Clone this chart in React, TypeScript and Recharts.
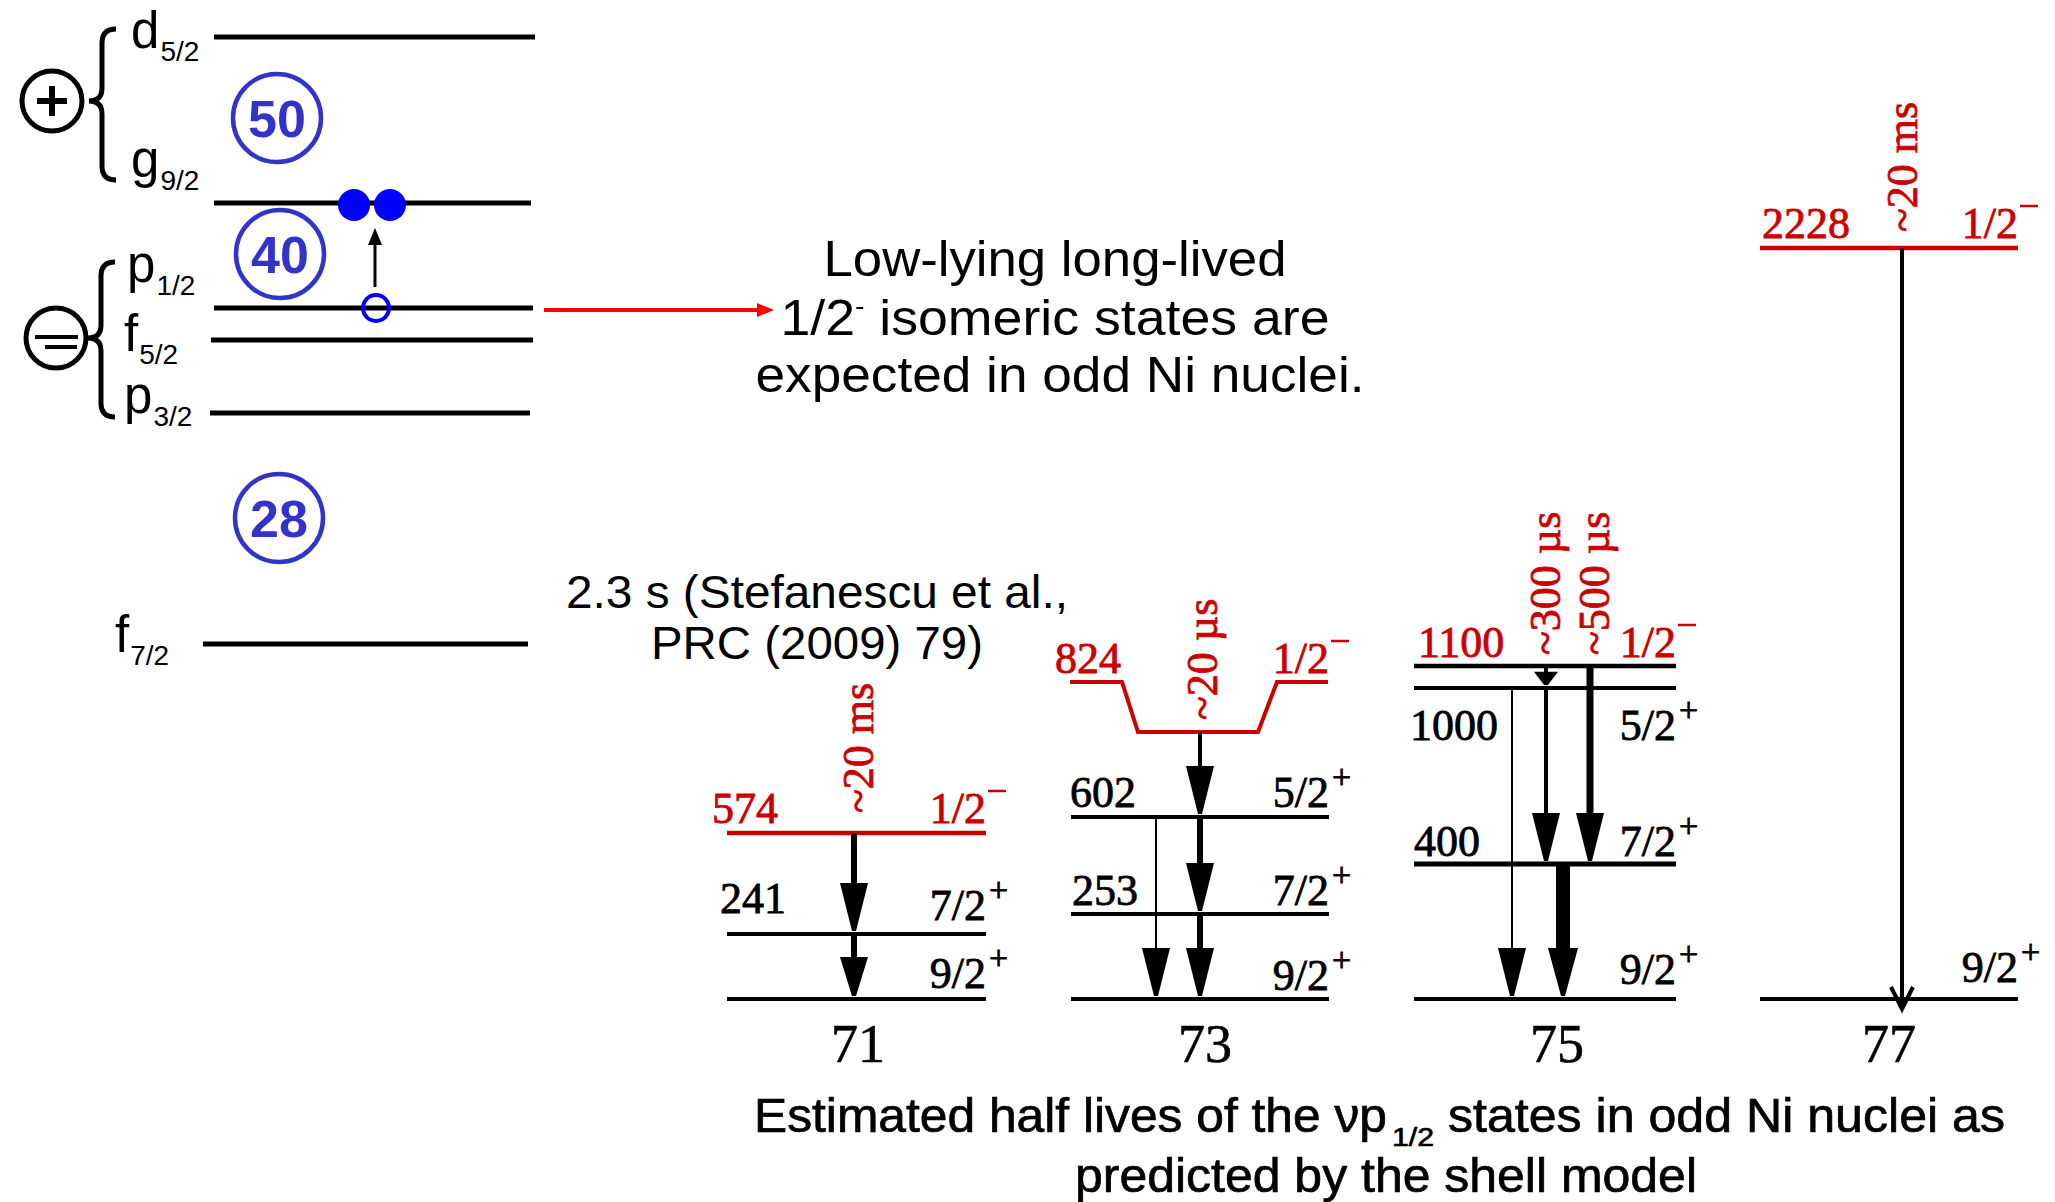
import React from "react";
import { ComposedChart, XAxis, YAxis, Scatter, ReferenceLine, Line } from "recharts";

const W = 2055;
const H = 1202;
const SANS = '"Liberation Sans", Arial, sans-serif';
const SERIF = '"Liberation Serif", "Times New Roman", serif';
const BLUE = "#3333cc";
const PURE_BLUE = "#0000ff";
const RED = "#cc0000";

// ---- shell-model panel (left) ----
const orbitalL = ["d", "g", "p", "f", "p", "f"];
const orbitalJ = ["5/2", "9/2", "1/2", "5/2", "3/2", "7/2"];
const orbitalY = [37, 203, 308, 340, 413, 644];
const orbitalX0 = [214, 214, 214, 211, 210, 203];
const orbitalX1 = [535, 531, 533, 533, 530, 528];
const orbitalLabelX = [131, 131, 127, 124, 124, 115];
const orbitalLabelY = [48, 177, 282, 351, 413, 652];

const magicNumbers = ["50", "40", "28"];
const magicX = [277, 280, 279];
const magicY = [118, 254, 518];

const paritySign = ["+", "-"];
const parityX = [52, 56];
const parityY = [101, 338];
const braceTipX = [89, 88];
const braceTop = [29, 262];
const braceBottom = [180, 417];

// neutron pair lifted from p1/2 into g9/2
const pairX = [354, 390];
const pairY = 205;
const holeX = 376;
const holeY = 308;

// ---- odd Ni isotopes (right) ----
const isotopes = ["71", "73", "75", "77"];
const isoX0 = [727, 1071, 1414, 1760];
const isoX1 = [986, 1329, 1676, 2018];
const isoLabelX = [858, 1205, 1557, 1889];

const levelIso = [0, 0, 0, 1, 1, 1, 1, 2, 2, 2, 2, 3, 3];
const levelEnergy = [0, 241, 574, 0, 253, 602, 824, 0, 400, 1000, 1100, 0, 2228];
const levelSpin = ["9/2", "7/2", "1/2", "9/2", "7/2", "5/2", "1/2", "9/2", "7/2", "5/2", "1/2", "9/2", "1/2"];
const levelParity = ["+", "+", "-", "+", "+", "+", "-", "+", "+", "+", "-", "+", "-"];
const levelY = [999, 934, 833, 999, 914, 817, 682, 999, 864, 688, 666, 999, 248];
const energyLabelX = [0, 720, 712, 0, 1072, 1070, 1055, 0, 1414, 1410, 1418, 0, 1762];
const energyLabelY = [0, 913, 823, 0, 905, 807, 673, 0, 856, 740, 657, 0, 238];
const spinLabelY = [988, 920, 823, 990, 905, 807, 673, 984, 856, 740, 657, 982, 238];

// 73Ni isomer level is drawn with a dip
const dip73X = [1070, 1122, 1138, 1258, 1277, 1328];
const dip73Y = [682, 682, 732, 732, 682, 682];

// estimated half lives of the 1/2- states
const halfLives = ["~20 ms", "~20 µs", "~300 µs", "~500 µs", "~20 ms"];
const halfLifeX = [873, 1217, 1560, 1609, 1917];
const halfLifeY = [813, 720, 655, 655, 232];

// gamma transitions
const gammaX = [854, 854, 1200, 1200, 1200, 1156, 1546, 1546, 1590, 1512, 1563, 1902];
const gammaFrom = [833, 934, 732, 817, 914, 817, 666, 688, 666, 688, 864, 248];
const gammaTo = [934, 999, 817, 914, 999, 999, 688, 864, 864, 999, 999, 999];
const gammaStrength = [6, 6, 4, 6, 6, 2, 4, 4, 7, 2, 14, 4];
const gammaOpen = [false, false, false, false, false, false, false, false, false, false, false, true];

const orbitalLabels = orbitalL.map((l, i) => ({ x: orbitalLabelX[i], y: orbitalLabelY[i], l, j: orbitalJ[i] }));
const magicData = magicNumbers.map((label, i) => ({ x: magicX[i], y: magicY[i], label }));
const parityData = paritySign.map((sign, i) => ({ x: parityX[i], y: parityY[i], sign }));
const braceData = braceTipX.map((x, i) => ({ x, y: parityY[i], up: parityY[i] - braceTop[i], down: braceBottom[i] - parityY[i] }));
const pairData = pairX.map((x) => ({ x, y: pairY }));

const energyData = levelEnergy
  .map((e, i) => ({ x: energyLabelX[i], y: energyLabelY[i], label: String(e), red: levelParity[i] === "-" }))
  .filter((d) => d.label !== "0");
const spinData = levelSpin.map((s, i) => ({
  x: isoX1[levelIso[i]],
  y: spinLabelY[i],
  label: s,
  parity: levelParity[i],
}));
const isoData = isotopes.map((label, i) => ({ x: isoLabelX[i], y: 1062, label }));
const halfLifeData = halfLives.map((label, i) => ({ x: halfLifeX[i], y: halfLifeY[i], label }));
const dip73 = dip73X.map((x, i) => ({ x, y: dip73Y[i] }));

const gammaHeads = gammaX.map((x, i) => {
  const span = gammaTo[i] - gammaFrom[i];
  const open = gammaOpen[i];
  const len = Math.min(48, span * 0.6);
  return {
    x,
    y: open ? gammaTo[i] + 10 : gammaTo[i] - 3,
    open,
    len,
    half: gammaStrength[i] >= 10 ? 15 : span < 30 ? 12 : 14,
  };
});

const safe = (f: (cx: number, cy: number, d: any) => React.ReactNode) => (props: any) => {
  const { cx, cy, payload } = props;
  if (typeof cx !== "number" || typeof cy !== "number") return <g />;
  return <g>{f(cx, cy, payload)}</g>;
};

const pt = (x: number, y: number) => ({ x, y });

export default function App() {
  return (
    <div style={{ position: "absolute", left: 0, top: 0, width: W, height: H, background: "#fff" }}>
      <ComposedChart width={W} height={H} margin={{ top: 0, right: 0, bottom: 0, left: 0 }}>
        <XAxis type="number" dataKey="x" domain={[0, W]} allowDataOverflow hide />
        <YAxis type="number" dataKey="y" domain={[0, H]} allowDataOverflow reversed hide />

        {/* orbitals */}
        {orbitalY.map((y, i) => (
          <ReferenceLine
            key={"orb" + i}
            segment={[pt(orbitalX0[i], y), pt(orbitalX1[i], y)]}
            stroke="#000"
            strokeWidth={5}
          />
        ))}

        {/* arrow to the text */}
        <ReferenceLine segment={[pt(544, 310), pt(760, 310)]} stroke="#ff0000" strokeWidth={4} />
        <ReferenceLine segment={[pt(375, 287), pt(375, 240)]} stroke="#000" strokeWidth={3} />

        {/* isotope levels */}
        {levelY.map((y, i) => {
          const iso = levelIso[i];
          const isomer = levelParity[i] === "-";
          if (isomer && iso === 1) return null;
          const color = isomer && iso !== 2 ? RED : "#000";
          return (
            <ReferenceLine
              key={"lv" + i}
              segment={[pt(isoX0[iso], y), pt(isoX1[iso], y)]}
              stroke={color}
              strokeWidth={isomer ? 4.5 : y === 864 ? 5 : 4}
            />
          );
        })}
        <Line
          data={dip73}
          dataKey="y"
          type="linear"
          stroke={RED}
          strokeWidth={4}
          dot={false}
          isAnimationActive={false}
        />

        {/* gamma shafts */}
        {gammaX.map((x, i) => {
          const h = gammaHeads[i];
          const end = h.open ? h.y - 2 : h.y - h.len / 2;
          return (
            <ReferenceLine
              key={"gs" + i}
              segment={[pt(x, gammaFrom[i]), pt(x, end)]}
              stroke="#000"
              strokeWidth={gammaStrength[i]}
            />
          );
        })}

        <Scatter
          data={gammaHeads}
          isAnimationActive={false}
          shape={safe((cx, cy, d) =>
            d.open ? (
              <polyline
                points={`${cx - 11},${cy - 22} ${cx},${cy} ${cx + 11},${cy - 22}`}
                fill="none"
                stroke="#000"
                strokeWidth={4}
              />
            ) : (
              <polygon
                points={`${cx - d.half},${cy - d.len} ${cx + d.half},${cy - d.len} ${cx + 2},${cy} ${cx - 2},${cy}`}
                fill="#000"
              />
            )
          )}
        />

        {/* arrowheads of the left panel */}
        <Scatter
          data={[{ x: 774, y: 310 }]}
          isAnimationActive={false}
          shape={safe((cx, cy) => (
            <polygon points={`${cx},${cy} ${cx - 17},${cy - 7} ${cx - 17},${cy + 7}`} fill="#ff0000" />
          ))}
        />
        <Scatter
          data={[{ x: 375, y: 228 }]}
          isAnimationActive={false}
          shape={safe((cx, cy) => (
            <polygon points={`${cx},${cy} ${cx - 7},${cy + 17} ${cx + 7},${cy + 17}`} fill="#000" />
          ))}
        />

        {/* orbital labels */}
        <Scatter
          data={orbitalLabels}
          isAnimationActive={false}
          shape={safe((cx, cy, d) => (
            <text x={cx} y={cy} fontFamily={SANS} fontSize={51} fill="#000">
              {d.l}
              <tspan fontSize={28} dx={1} dy={13}>
                {d.j}
              </tspan>
            </text>
          ))}
        />

        {/* magic numbers */}
        <Scatter
          data={magicData}
          isAnimationActive={false}
          shape={safe((cx, cy, d) => (
            <>
              <circle cx={cx} cy={cy} r={44} fill="none" stroke={BLUE} strokeWidth={4.5} />
              <text
                x={cx}
                y={cy + 19}
                textAnchor="middle"
                fontFamily={SANS}
                fontWeight="bold"
                fontSize={52}
                fill={BLUE}
              >
                {d.label}
              </text>
            </>
          ))}
        />

        {/* parity symbols and braces */}
        <Scatter
          data={parityData}
          isAnimationActive={false}
          shape={safe((cx, cy, d) => (
            <>
              <circle cx={cx} cy={cy} r={30} fill="none" stroke="#000" strokeWidth={5} />
              {d.sign === "+" ? (
                <>
                  <line x1={cx - 15} y1={cy} x2={cx + 15} y2={cy} stroke="#000" strokeWidth={6} />
                  <line x1={cx} y1={cy - 15} x2={cx} y2={cy + 15} stroke="#000" strokeWidth={6} />
                </>
              ) : (
                <>
                  <line x1={cx - 21} y1={cy - 1} x2={cx + 22} y2={cy - 1} stroke="#000" strokeWidth={4} />
                  <line x1={cx - 11} y1={cy + 9} x2={cx + 21} y2={cy + 9} stroke="#000" strokeWidth={4} />
                </>
              )}
            </>
          ))}
        />
        <Scatter
          data={braceData}
          isAnimationActive={false}
          shape={safe((cx, cy, d) => {
            const s = cx + 13;
            const h = cx + 27;
            const top = cy - d.up;
            const bot = cy + d.down;
            return (
              <path
                d={`M ${h} ${top} Q ${s} ${top} ${s} ${top + 14} L ${s} ${cy - 13} Q ${s} ${cy} ${cx} ${cy} Q ${s} ${cy} ${s} ${cy + 13} L ${s} ${bot - 14} Q ${s} ${bot} ${h} ${bot}`}
                fill="none"
                stroke="#000"
                strokeWidth={5}
              />
            );
          })}
        />

        {/* neutrons */}
        <Scatter
          data={pairData}
          isAnimationActive={false}
          shape={safe((cx, cy) => <circle cx={cx} cy={cy} r={16} fill={PURE_BLUE} />)}
        />
        <Scatter
          data={[{ x: holeX, y: holeY }]}
          isAnimationActive={false}
          shape={safe((cx, cy) => (
            <circle cx={cx} cy={cy} r={13} fill="none" stroke={PURE_BLUE} strokeWidth={4} />
          ))}
        />

        {/* text blocks */}
        <Scatter
          data={[{ x: 1055, y: 276 }]}
          isAnimationActive={false}
          shape={safe((cx, cy) => (
            <g fontFamily={SANS} fontSize={50} fill="#000" textAnchor="middle">
              <text x={cx} y={cy} textLength={463} lengthAdjust="spacingAndGlyphs">
                Low-lying long-lived
              </text>
              <text x={cx} y={cy + 59} textLength={549} lengthAdjust="spacingAndGlyphs">
                1/2
                <tspan fontSize={26} dy={-20}>
                  -
                </tspan>
                <tspan dy={20}>{" isomeric states are"}</tspan>
              </text>
              <text x={cx + 5} y={cy + 116} textLength={609} lengthAdjust="spacingAndGlyphs">
                expected in odd Ni nuclei.
              </text>
            </g>
          ))}
        />
        <Scatter
          data={[{ x: 817, y: 608 }]}
          isAnimationActive={false}
          shape={safe((cx, cy) => (
            <g fontFamily={SANS} fontSize={46} fill="#000" textAnchor="middle">
              <text x={cx} y={cy} textLength={502} lengthAdjust="spacingAndGlyphs">
                2.3 s (Stefanescu et al.,
              </text>
              <text x={cx} y={cy + 51} textLength={332} lengthAdjust="spacingAndGlyphs">
                PRC (2009) 79)
              </text>
            </g>
          ))}
        />

        {/* level labels */}
        <Scatter
          data={energyData}
          isAnimationActive={false}
          shape={safe((cx, cy, d) => (
            <text
              x={cx}
              y={cy}
              fontFamily={SERIF}
              fontSize={44}
              fill={d.red ? RED : "#000"}
              stroke={d.red ? RED : "#000"}
              strokeWidth={0.8}
            >
              {d.label}
            </text>
          ))}
        />
        <Scatter
          data={spinData}
          isAnimationActive={false}
          shape={safe((cx, cy, d) => {
            const red = d.parity === "-";
            const c = red ? RED : "#000";
            return (
              <>
                <text
                  x={cx}
                  y={cy}
                  textAnchor="end"
                  fontFamily={SERIF}
                  fontSize={44}
                  fill={c}
                  stroke={c}
                  strokeWidth={0.8}
                >
                  {d.label}
                </text>
                {red ? (
                  <line x1={cx + 2} y1={cy - 32} x2={cx + 20} y2={cy - 32} stroke={RED} strokeWidth={2.5} />
                ) : (
                  <text x={cx + 3} y={cy - 19} fontFamily={SERIF} fontSize={34} fill="#000" stroke="#000" strokeWidth={0.8}>
                    +
                  </text>
                )}
              </>
            );
          })}
        />
        <Scatter
          data={halfLifeData}
          isAnimationActive={false}
          shape={safe((cx, cy, d) => (
            <text
              x={cx}
              y={cy}
              transform={`rotate(-90 ${cx} ${cy})`}
              fontFamily={SERIF}
              fontSize={44}
              fill={RED}
              stroke={RED}
              strokeWidth={0.8}
            >
              {d.label}
            </text>
          ))}
        />
        <Scatter
          data={isoData}
          isAnimationActive={false}
          shape={safe((cx, cy, d) => (
            <text
              x={cx}
              y={cy}
              textAnchor="middle"
              fontFamily={SERIF}
              fontSize={54}
              fill="#000"
              stroke="#000"
              strokeWidth={0.6}
            >
              {d.label}
            </text>
          ))}
        />

        {/* caption */}
        <Scatter
          data={[{ x: 754, y: 1132 }]}
          isAnimationActive={false}
          shape={safe((cx, cy) => (
            <g fontFamily={SANS} fontSize={48} fill="#000" stroke="#000" strokeWidth={0.7}>
              <text x={cx} y={cy} textLength={633} lengthAdjust="spacingAndGlyphs">
                Estimated half lives of the νp
              </text>
              <text x={cx + 638} y={cy + 14} fontSize={26} textLength={42} lengthAdjust="spacingAndGlyphs">
                1/2
              </text>
              <text x={cx + 694} y={cy} textLength={557} lengthAdjust="spacingAndGlyphs">
                states in odd Ni nuclei as
              </text>
              <text x={cx + 321} y={cy + 60} textLength={622} lengthAdjust="spacingAndGlyphs">
                predicted by the shell model
              </text>
            </g>
          ))}
        />
      </ComposedChart>
    </div>
  );
}
